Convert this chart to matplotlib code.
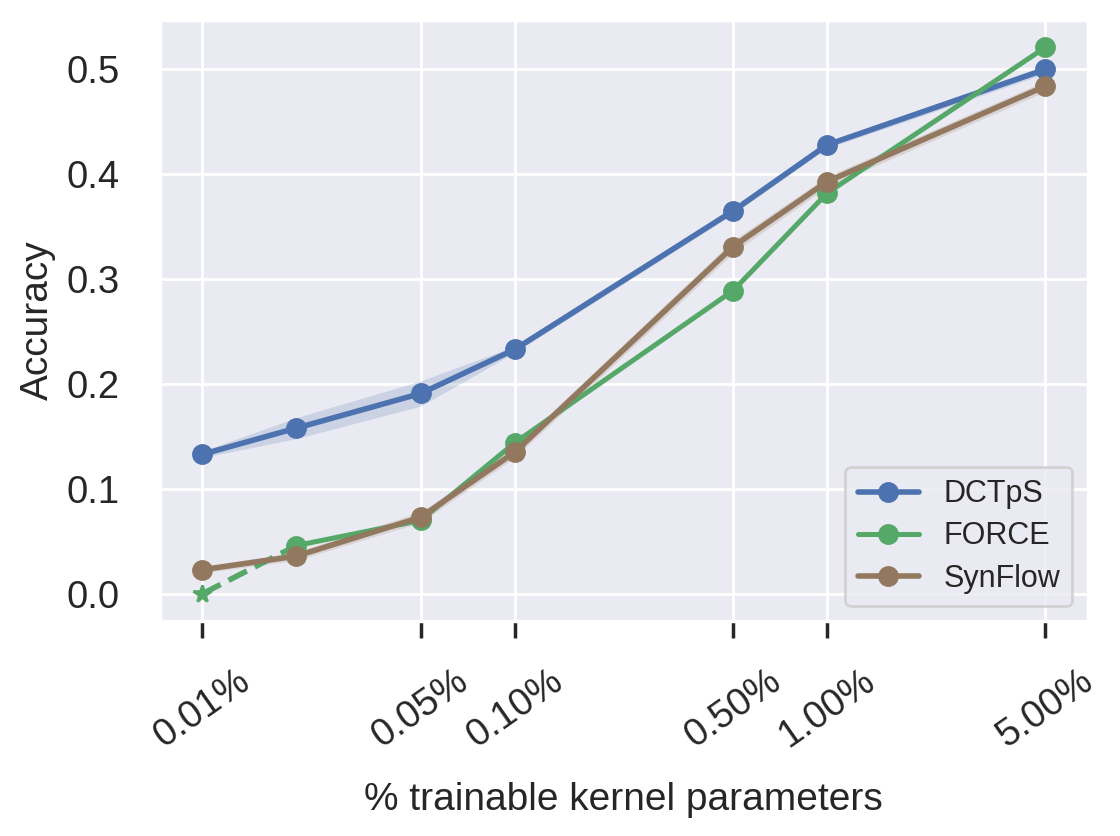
import numpy as np
import seaborn as sns
import matplotlib.pyplot as plt

pct = [0.01, 0.02, 0.05, 0.1, 0.5, 1.0, 5.0]
dctps = [0.133, 0.158, 0.191, 0.233, 0.365, 0.428, 0.500]
dctps_err = [0.003, 0.010, 0.012, 0.003, 0.003, 0.003, 0.004]
force_pct = [0.02, 0.05, 0.1, 0.5, 1.0, 5.0]
force = [0.046, 0.070, 0.144, 0.289, 0.382, 0.521]
force_start = [0.01, 0.02]
force_start_acc = [0.0, 0.046]
synflow = [0.023, 0.036, 0.073, 0.135, 0.331, 0.393, 0.484]
synflow_err = [0.003, 0.004, 0.005, 0.005, 0.006, 0.005, 0.005]
ticks = [0.01, 0.05, 0.1, 0.5, 1.0, 5.0]

sns.set_theme(style="darkgrid", font_scale=1.25)
plt.rcParams['font.family'] = ['Liberation Sans', 'DejaVu Sans']
pal = sns.color_palette("deep")
blue, green, brown = pal[0], pal[2], pal[5]

fig = plt.figure(figsize=(5.6, 4.18), dpi=200)
ax = fig.add_axes([0.143, 0.257, 0.828, 0.719])

d = np.array(dctps); de = np.array(dctps_err)
s = np.array(synflow); se = np.array(synflow_err)
ax.fill_between(pct, d - de, d + de, color=blue, alpha=0.2, lw=0)
ax.fill_between(pct, s - se, s + se, color=brown, alpha=0.2, lw=0)
ax.plot(pct, dctps, marker='o', color=blue, lw=2, ms=6.5, label='DCTpS')
ax.plot(force_start, force_start_acc, '--', color=green, lw=2)
ax.plot(force_start[:1], force_start_acc[:1], '*', color=green, ms=6.5)
ax.plot(force_pct, force, marker='o', color=green, lw=1.8, ms=6.5, label='FORCE')
ax.plot(pct, synflow, marker='o', color=brown, lw=2, ms=6.5, label='SynFlow')

ax.set_xscale('log')
ax.set_xticks(ticks)
ax.set_xticklabels(['%.2f%%' % t for t in ticks], rotation=35)
ax.xaxis.set_minor_locator(plt.NullLocator())
ax.tick_params(axis='x', bottom=True, length=6, width=1.25, color='#262626',
               pad=9, labelsize=13.75)
ax.tick_params(axis='y', pad=8.5, labelsize=13.75)
ax.set_yticks([0.0, 0.1, 0.2, 0.3, 0.4, 0.5])
ax.set_xlabel('% trainable kernel parameters', fontsize=14, labelpad=10)
ax.set_ylabel('Accuracy', fontsize=14)
ax.legend(loc='lower right', fontsize=11, handlelength=2.0, labelspacing=0.4)

fig.savefig('out.png', dpi=200)
